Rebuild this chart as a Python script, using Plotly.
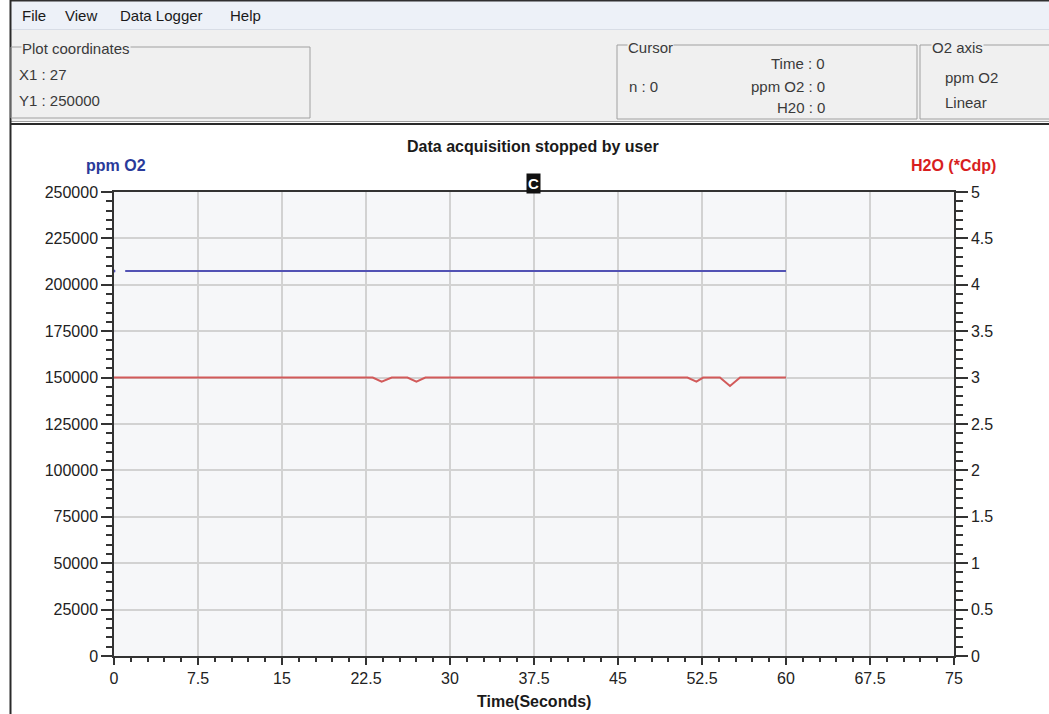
import plotly.graph_objects as go

# ---------------- data ----------------
o2_time = [0, 1.0, 60.0]
o2_ppm = [207500, 207500, 207500]

h2o_time = [0, 23.1, 23.9, 24.8, 26.2, 27.0, 27.8, 51.2, 52.0, 52.6, 54.1, 55.0, 55.9, 60.0]
h2o_cdp = [3.0, 3.0, 2.957, 3.0, 3.0, 2.957, 3.0, 3.0, 2.957, 3.0, 3.0, 2.91, 3.0, 3.0]

x_ticks = [0, 7.5, 15, 22.5, 30, 37.5, 45, 52.5, 60, 67.5, 75]
y1_ticks = [0, 25000, 50000, 75000, 100000, 125000, 150000, 175000, 200000, 225000, 250000]
y2_ticks = [0, 0.5, 1, 1.5, 2, 2.5, 3, 3.5, 4, 4.5, 5]

menu_items = ["File", "View", "Data Logger", "Help"]

# ---------------- geometry helpers ----------------
W, H = 1049, 714
L, R, T, B = 114, 954, 192, 656


def px(x):
    return (x - L) / (R - L)


def py(y):
    return (B - y) / (B - T)


FONT = "Liberation Sans, Arial, sans-serif"
NARROW = "Liberation Sans Narrow, Liberation Sans, Arial, sans-serif"
AX = "#333333"

fig = go.Figure()

fig.add_trace(go.Scatter(x=o2_time[1:], y=o2_ppm[1:], mode="lines",
                         line=dict(color="#5252b4", width=2), yaxis="y"))
fig.add_trace(go.Scatter(x=o2_time[:1], y=o2_ppm[:1], mode="markers",
                         marker=dict(color="#5252b4", size=3), yaxis="y"))
fig.add_trace(go.Scatter(x=h2o_time, y=h2o_cdp, mode="lines",
                         line=dict(color="#d25a5a", width=2), yaxis="y2"))

shapes = []
# panel background and menu
shapes.append(dict(type="rect", xref="paper", yref="paper", x0=px(10), x1=px(W + 5),
                   y0=py(0), y1=py(30), fillcolor="#edf1f8", line_width=0, layer="below"))
shapes.append(dict(type="rect", xref="paper", yref="paper", x0=px(10), x1=px(W + 5),
                   y0=py(30), y1=py(122), fillcolor="#f0f0f0", line_width=0, layer="below"))
shapes.append(dict(type="line", xref="paper", yref="paper", x0=px(10), x1=px(W + 5),
                   y0=py(29.5), y1=py(29.5), line=dict(color="#d8dde6", width=1)))
shapes.append(dict(type="line", xref="paper", yref="paper", x0=px(10), x1=px(W + 5),
                   y0=py(0.5), y1=py(0.5), line=dict(color="#303030", width=2)))
shapes.append(dict(type="line", xref="paper", yref="paper", x0=px(10), x1=px(W + 5),
                   y0=py(121.5), y1=py(121.5), line=dict(color="#a0a0a0", width=1)))
shapes.append(dict(type="line", xref="paper", yref="paper", x0=px(10), x1=px(W + 5),
                   y0=py(124), y1=py(124), line=dict(color="#2a2a2a", width=2)))
shapes.append(dict(type="line", xref="paper", yref="paper", x0=px(10.5), x1=px(10.5),
                   y0=py(0), y1=py(H + 5), line=dict(color="#2a2a2a", width=2)))
# group boxes
for (x0, x1, y0, y1) in [(11, 310, 47, 118), (617, 917, 45, 119), (920, W + 5, 45, 119)]:
    shapes.append(dict(type="rect", xref="paper", yref="paper", x0=px(x0), x1=px(x1),
                       y0=py(y0), y1=py(y1), line=dict(color="#a0a0a0", width=1),
                       fillcolor="rgba(0,0,0,0)"))

annotations = []


def txt(s, x, y, xanchor="left", size=14, color="#1a1a1a", bold=False, bg=None, pad=0, font=FONT):
    d = dict(text=("<b>%s</b>" % s) if bold else s, xref="paper", yref="paper",
             x=px(x), y=py(y), xanchor=xanchor, yanchor="middle", showarrow=False,
             font=dict(family=font, size=size, color=color))
    if bg:
        d["bgcolor"] = bg
        d["borderpad"] = pad
    annotations.append(d)


menu_x = [20, 63, 118, 228]
for s, x in zip(menu_items, menu_x):
    txt(s, x, 16, size=15)

PANEL = "#3a3a3a"
txt("Plot coordinates", 21, 48, size=15, bg="#f0f0f0", color=PANEL)
txt("X1 : 27", 17, 75, size=15, color=PANEL)
txt("Y1 : 250000", 17, 100, size=15, color=PANEL)

txt("Cursor", 627, 47, size=15, bg="#f0f0f0", color=PANEL)
txt("Time : 0", 827, 63, xanchor="right", size=15, color=PANEL)
txt("n : 0", 627, 86, size=15, color=PANEL)
txt("ppm O2 : 0", 827, 86, xanchor="right", size=15, color=PANEL)
txt("H20 : 0", 827, 108, xanchor="right", size=15, color=PANEL)

txt("O2 axis", 931, 47, size=15, bg="#f0f0f0", color=PANEL)
txt("ppm O2", 943, 77, size=15, color=PANEL)
txt("Linear", 943, 102, size=15, color=PANEL)

txt("Data acquisition stopped by user", 533, 147, xanchor="center", size=16, bold=True, color="#1a1a1a")
txt("ppm O2", 116, 166, xanchor="center", size=16, bold=True, color="#2a3a9a")
txt("H2O (*Cdp)", 953, 165, xanchor="center", size=16, bold=True, color="#d81e1e")
txt("C", 533, 183, xanchor="center", size=15, bold=True, color="#ffffff", bg="#111111", pad=1)
txt("Time(Seconds)", 534, 701, xanchor="center", size=16, bold=True, color="#1a1a1a")

fig.update_layout(
    width=W, height=H,
    margin=dict(l=L, r=W - R, t=T, b=H - B, pad=0),
    paper_bgcolor="#ffffff",
    plot_bgcolor="#f6f7f9",
    showlegend=False,
    shapes=shapes,
    annotations=annotations,
    xaxis=dict(range=[0, 75], tickvals=x_ticks, ticks="outside", ticklen=7, tickwidth=1.5,
               tickcolor=AX, showline=True, linecolor=AX, linewidth=1.5, mirror=True,
               showgrid=True, gridcolor="#d2d2d2", gridwidth=1.5, zeroline=False,
               tickfont=dict(family=NARROW, size=16, color="#222"),
               minor=dict(dtick=1.5, ticks="outside", ticklen=4, tickcolor=AX, showgrid=False)),
    yaxis=dict(range=[0, 250000], tickvals=y1_ticks, tickformat="d", ticks="outside", ticklen=11,
               tickwidth=1.5, tickcolor=AX, showline=True, linecolor=AX, linewidth=1.5,
               showgrid=True, gridcolor="#d2d2d2", gridwidth=1.5, zeroline=False,
               tickfont=dict(family=NARROW, size=16, color="#222"),
               minor=dict(dtick=5000, ticks="outside", ticklen=6, tickcolor=AX, showgrid=False)),
    yaxis2=dict(range=[0, 5], tickvals=y2_ticks, overlaying="y", side="right", ticks="outside",
                ticklen=12, tickwidth=1.5, tickcolor=AX, showline=True, linecolor=AX, linewidth=1.5,
                showgrid=False, zeroline=False,
                tickfont=dict(family=NARROW, size=16, color="#222"),
                minor=dict(dtick=0.1, ticks="outside", ticklen=7, tickcolor=AX, showgrid=False)),
)

fig.write_html("out.html")
